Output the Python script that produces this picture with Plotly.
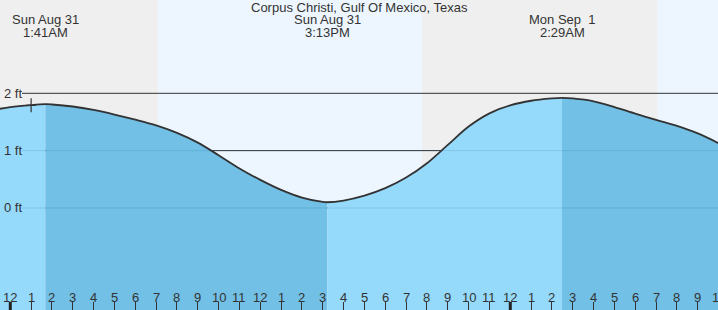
import plotly.graph_objects as go

# ---------------- data (hours since Sun Aug 31 00:00, tide height in ft) ----------------
times = [-0.5, 0, 1, 1 + 41/60, 2, 3, 4, 5, 6, 7, 8, 9, 10, 11, 12, 13, 14, 15, 15 + 13/60,
         16, 17, 18, 19, 20, 21, 22, 23, 24, 25, 26, 26 + 29/60, 27, 28, 29, 30, 31, 32, 33, 34]
heights = [1.73, 1.76, 1.795, 1.81, 1.805, 1.77, 1.71, 1.63, 1.54, 1.44, 1.31, 1.14, 0.92, 0.69,
           0.49, 0.315, 0.18, 0.105, 0.10, 0.13, 0.215, 0.345, 0.53, 0.78, 1.10, 1.42, 1.65, 1.79,
           1.87, 1.91, 1.92, 1.91, 1.86, 1.76, 1.645, 1.535, 1.43, 1.30, 1.13]

extreme_times = [1 + 41/60, 15 + 13/60, 26 + 29/60]
extreme_day = ["Sun Aug 31", "Sun Aug 31", "Mon Sep\u00a0 1"]
extreme_clock = ["1:41AM", "3:13PM", "2:29AM"]

# sunrise / sunset boundaries (hours)
night_spans = [(-1, 7 + 5/60), (19 + 46/60, 31 + 3/60)]
day_spans = [(7 + 5/60, 19 + 46/60), (31 + 3/60, 36)]

hour_ticks = list(range(0, 35))
hour_labels = [str((h % 12) or 12) for h in hour_ticks]
midnights = [0, 24]

y_levels = [0, 1, 2]
y_labels = ["0 ft", "1 ft", "2 ft"]

title = "Corpus Christi, Gulf Of Mexico, Texas"
now_time, now_height = 1.0, 1.79

# ---------------- styling ----------------
NIGHT = "#efefef"
DAY = "#edf6fe"
RISE = "#96dafb"
FALL = "#72c0e5"
TXT = "#333333"
FONT = "Liberation Sans, Arial, sans-serif"
FS = 13

XR = [-0.494, 33.97]
YR = [-1.779, 3.627]
BASE = -1.9


def xpaper(t):
    return (t - XR[0]) / (XR[1] - XR[0])


fig = go.Figure()

# water segments split at the extremes
idx = [0] + [times.index(t) for t in extreme_times] + [len(times) - 1]
colors = [RISE, FALL, RISE, FALL]
for k in range(len(idx) - 1):
    a, b = idx[k], idx[k + 1]
    xs = times[a:b + 1]
    ys = heights[a:b + 1]
    fig.add_trace(go.Scatter(x=[xs[0], xs[-1]], y=[BASE, BASE], mode="lines",
                             line=dict(width=0), hoverinfo="skip", showlegend=False))
    fig.add_trace(go.Scatter(x=xs, y=ys, mode="lines", fill="tonexty",
                             fillcolor=colors[k],
                             line=dict(color=colors[k], width=0.5, shape="spline", smoothing=0.9),
                             hoverinfo="skip", showlegend=False))

# tide curve outline
fig.add_trace(go.Scatter(x=times, y=heights, mode="lines",
                         line=dict(color="#333333", width=1.8, shape="spline", smoothing=0.9),
                         hoverinfo="skip", showlegend=False))

# current-time cross marker
fig.add_trace(go.Scatter(x=[now_time], y=[now_height], mode="markers",
                         marker=dict(symbol="line-ns", size=10, line=dict(color="#333", width=1.2)),
                         showlegend=False, hoverinfo="skip"))
fig.add_trace(go.Scatter(x=[now_time], y=[now_height], mode="markers",
                         marker=dict(symbol="line-ew", size=7, line=dict(color="#333", width=1.2)),
                         showlegend=False, hoverinfo="skip"))

shapes = []
for x0, x1 in night_spans:
    shapes.append(dict(type="rect", xref="x", yref="paper", x0=x0, x1=x1, y0=0, y1=1,
                       fillcolor=NIGHT, line=dict(width=0), layer="below"))
for x0, x1 in day_spans:
    shapes.append(dict(type="rect", xref="x", yref="paper", x0=x0, x1=x1, y0=0, y1=1,
                       fillcolor=DAY, line=dict(width=0), layer="below"))
# dark grid lines (under the water)
for lv in y_levels:
    shapes.append(dict(type="line", xref="paper", yref="y", x0=22/718, x1=1, y0=lv, y1=lv,
                       line=dict(color="#333333", width=1), layer="below"))
# faint grid lines seen through the water
for lv in y_levels[:2]:
    shapes.append(dict(type="line", xref="paper", yref="y", x0=22/718, x1=1, y0=lv, y1=lv,
                       line=dict(color="rgba(0,70,130,0.13)", width=1), layer="above"))
# midnight ticks
for m in midnights:
    shapes.append(dict(type="line", xref="x", yref="paper", x0=m, x1=m, y0=0, y1=8/310,
                       line=dict(color="#222222", width=3), layer="above"))

annotations = []
for t, lab in zip(hour_ticks, hour_labels):
    annotations.append(dict(x=xpaper(t), y=13/310, xref="paper", yref="paper", text=lab,
                            showarrow=False, xanchor="center", yanchor="middle",
                            font=dict(family=FONT, size=FS, color=TXT)))
for lv, lab in zip(y_levels, y_labels):
    annotations.append(dict(x=2/718, y=lv, xref="paper", yref="y", text=lab, showarrow=False,
                            xanchor="left", yanchor="middle",
                            font=dict(family=FONT, size=FS, color=TXT)))
for t, d, c in zip(extreme_times, extreme_day, extreme_clock):
    annotations.append(dict(x=t, y=1 - 20/310, xref="x", yref="paper", text=d, showarrow=False,
                            xanchor="center", yanchor="middle",
                            font=dict(family=FONT, size=FS, color=TXT)))
    annotations.append(dict(x=t, y=1 - 32/310, xref="x", yref="paper", text=c, showarrow=False,
                            xanchor="center", yanchor="middle",
                            font=dict(family=FONT, size=FS, color=TXT)))
annotations.append(dict(x=0.5, y=1 - 8/310, xref="paper", yref="paper", text=title, showarrow=False,
                        xanchor="center", yanchor="middle",
                        font=dict(family=FONT, size=FS, color=TXT)))

fig.update_layout(
    width=718, height=310,
    margin=dict(l=0, r=0, t=0, b=0),
    paper_bgcolor=NIGHT, plot_bgcolor=NIGHT,
    shapes=shapes, annotations=annotations,
    xaxis=dict(range=XR, showgrid=False, zeroline=False, showline=False,
               tickvals=hour_ticks, ticks="inside", ticklen=8, tickwidth=1, tickcolor="#333333",
               showticklabels=False, fixedrange=True),
    yaxis=dict(range=YR, showgrid=False, zeroline=False, showline=False,
               showticklabels=False, fixedrange=True),
    showlegend=False,
)

fig.write_html("out.html", config={"displayModeBar": False})
